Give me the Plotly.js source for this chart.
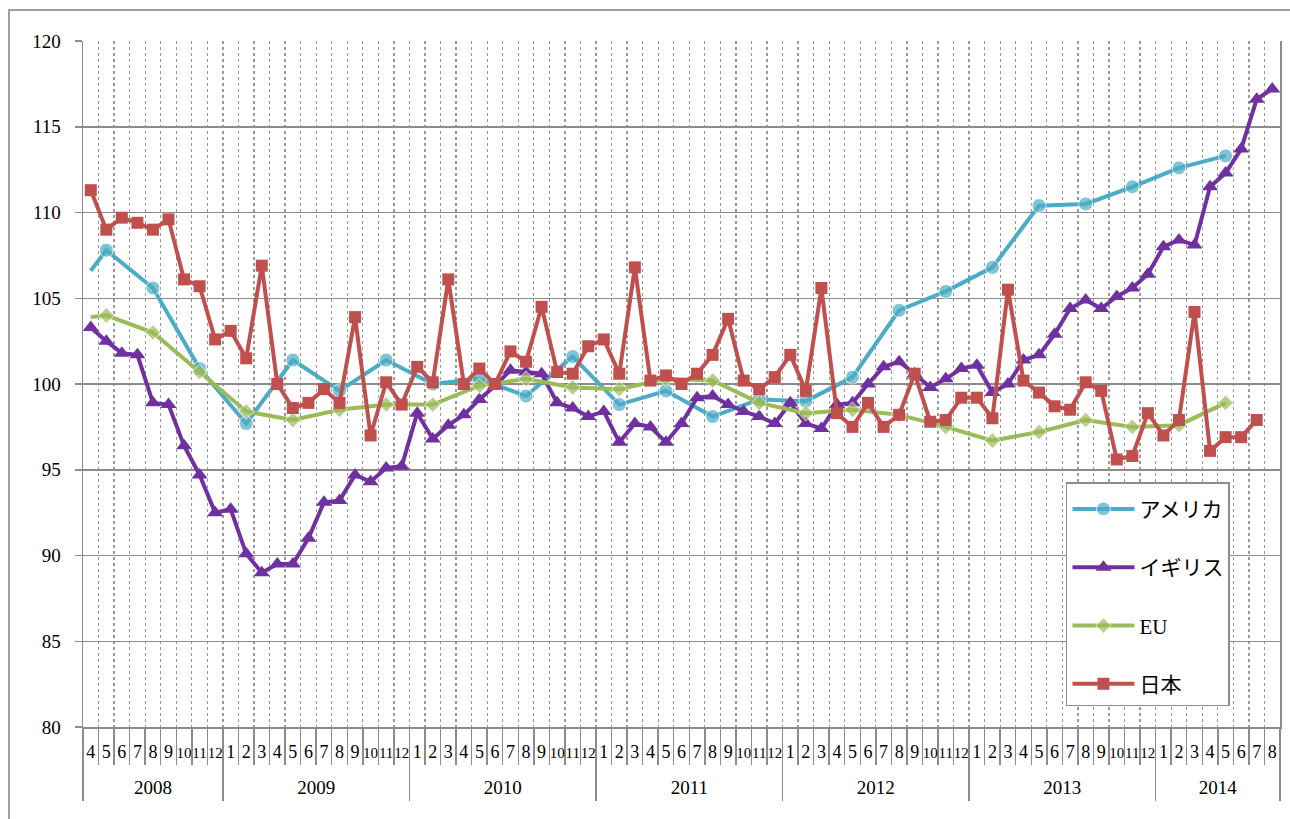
<!DOCTYPE html>
<html>
<head>
<meta charset="utf-8">
<script src="https://cdn.plot.ly/plotly-3.0.1.min.js"></script>
<style>
  html, body { margin: 0; padding: 0; background: #fff; }
  #wrap { position: relative; width: 1290px; height: 819px; overflow: hidden; }
  #frame { position: absolute; left: 8px; top: 9px; width: 1300px; height: 830px;
           border-left: 2px solid #a0a0a0; border-top: 2px solid #a0a0a0; pointer-events: none; }
  #chart { position: absolute; left: 0; top: 0; width: 1290px; height: 819px; }
</style>
</head>
<body>
<div id="wrap">
  <div id="chart"></div>
  <div id="frame"></div>
</div>
<script>
// ---- data (Apr 2008 – Aug 2014, monthly) ----
const years = ['2008', '2009', '2010', '2011', '2012', '2013', '2014'];
const monthsPerYear = [9, 12, 12, 12, 12, 12, 8];
const monthLabels = [
  '4','5','6','7','8','9','10','11','12',
  '1','2','3','4','5','6','7','8','9','10','11','12',
  '1','2','3','4','5','6','7','8','9','10','11','12',
  '1','2','3','4','5','6','7','8','9','10','11','12',
  '1','2','3','4','5','6','7','8','9','10','11','12',
  '1','2','3','4','5','6','7','8','9','10','11','12',
  '1','2','3','4','5','6','7','8'
];

// アメリカ (quarterly values, gaps connected)
const usa = [
  106.6, 107.8, null, null, 105.6, null, null, 100.9, null,
  null, 97.7, null, null, 101.4, null, null, 99.6, null, null, 101.4, null,
  null, 100.0, null, null, 100.3, null, null, 99.3, null, null, 101.6, null,
  null, 98.8, null, null, 99.6, null, null, 98.1, null, null, 99.1, null,
  null, 99.0, null, null, 100.4, null, null, 104.3, null, null, 105.4, null,
  null, 106.8, null, null, 110.4, null, null, 110.5, null, null, 111.5, null,
  null, 112.6, null, null, 113.3, null, null, null
];

// イギリス (monthly)
const uk = [
  103.3, 102.5, 101.8, 101.7, 98.9, 98.8, 96.4, 94.7, 92.5,
  92.7, 90.1, 89.0, 89.5, 89.5, 91.0, 93.1, 93.2, 94.7, 94.3, 95.1, 95.2,
  98.3, 96.8, 97.6, 98.2, 99.1, 99.9, 100.8, 100.7, 100.6, 98.9, 98.6, 98.1,
  98.4, 96.6, 97.7, 97.5, 96.6, 97.7, 99.2, 99.3, 98.8, 98.4, 98.1, 97.7,
  98.9, 97.7, 97.4, 98.8, 98.9, 100.0, 101.0, 101.3, 100.6, 99.8, 100.3, 100.9,
  101.1, 99.5, 100.0, 101.4, 101.7, 102.9, 104.4, 104.9, 104.4, 105.1, 105.6, 106.4,
  108.0, 108.4, 108.1, 111.5, 112.3, 113.7, 116.6, 117.2
];

// EU (quarterly values, gaps connected)
const eu = [
  103.9, 104.0, null, null, 103.0, null, null, 100.7, null,
  null, 98.4, null, null, 97.9, null, null, 98.5, null, null, 98.8, null,
  null, 98.8, null, null, 99.9, null, null, 100.3, null, null, 99.8, null,
  null, 99.7, null, null, 100.3, null, null, 100.2, null, null, 98.9, null,
  null, 98.3, null, null, 98.5, null, null, 98.2, null, null, 97.5, null,
  null, 96.7, null, null, 97.2, null, null, 97.9, null, null, 97.5, null,
  null, 97.6, null, null, 98.9, null, null, null
];

// 日本 (monthly)
const japan = [
  111.3, 109.0, 109.7, 109.4, 109.0, 109.6, 106.1, 105.7, 102.6,
  103.1, 101.5, 106.9, 100.0, 98.6, 98.9, 99.7, 98.9, 103.9, 97.0, 100.1, 98.8,
  101.0, 100.1, 106.1, 100.0, 100.9, 100.0, 101.9, 101.3, 104.5, 100.7, 100.6, 102.2,
  102.6, 100.6, 106.8, 100.2, 100.5, 100.0, 100.6, 101.7, 103.8, 100.2, 99.7, 100.4,
  101.7, 99.6, 105.6, 98.3, 97.5, 98.9, 97.5, 98.2, 100.6, 97.8, 97.9, 99.2,
  99.2, 98.0, 105.5, 100.2, 99.5, 98.7, 98.5, 100.1, 99.6, 95.6, 95.8, 98.3,
  97.0, 97.9, 104.2, 96.1, 96.9, 96.9, 97.9, null
];

const seriesNames = ['アメリカ', 'イギリス', 'EU', '日本'];
const seriesColors = ['#4bacc6', '#7030a0', '#9bbb59', '#c0504d'];

// ---- derived axis helpers ----
const idx = monthLabels.map((_, i) => i);
const monthBounds = idx.map(i => i - 0.5).concat([idx.length - 0.5]);
const yearBounds = [-0.5];
const yearCenters = [];
monthsPerYear.reduce((start, n) => {
  yearCenters.push(start + (n - 1) / 2);
  yearBounds.push(start + n - 0.5);
  return start + n;
}, 0);
// two-digit month labels set a little narrower so they fit their category
const monthTickText = monthLabels.map(m =>
  m.length > 1 ? '<span style="font-size:15px">' + m + '</span>' : m);

const firstHidden = (arr, size) => arr.map((v, i) => (i === 0 ? 0 : size));

const gray = '#8c8c8c';
const serif = 'Liberation Serif, Noto Sans CJK JP, serif';

const traces = [
  { x: idx, y: usa, name: seriesNames[0], legendgroup: 'g1', mode: 'lines+markers', connectgaps: true,
    line: { color: seriesColors[0], width: 4 },
    marker: { symbol: 'circle', size: firstHidden(usa, 14), color: seriesColors[0] } },
  { x: idx, y: uk, name: seriesNames[1], legendgroup: 'g2', mode: 'lines+markers', connectgaps: true,
    line: { color: seriesColors[1], width: 4 },
    marker: { symbol: 'triangle-up', size: 14, color: seriesColors[1] } },
  { x: idx, y: eu, name: seriesNames[2], legendgroup: 'g3', mode: 'lines+markers', connectgaps: true,
    line: { color: seriesColors[2], width: 4 },
    marker: { symbol: 'diamond', size: firstHidden(eu, 12), color: seriesColors[2] } },
  { x: idx, y: japan, name: seriesNames[3], legendgroup: 'g4', mode: 'lines+markers', connectgaps: false,
    line: { color: seriesColors[3], width: 4 },
    marker: { symbol: 'square', size: 12, color: seriesColors[3] } },
  // carrier for the year axis
  { x: yearCenters, y: yearCenters.map(() => null), xaxis: 'x2', yaxis: 'y', mode: 'lines',
    showlegend: false, hoverinfo: 'skip' }
];

const layout = {
  width: 1290, height: 819,
  margin: { l: 83, r: 10, t: 41, b: 92 },
  paper_bgcolor: 'rgba(0,0,0,0)', plot_bgcolor: '#fff',
  font: { family: serif, color: '#000' },
  showlegend: true,
  legend: {
    x: 0.8212, y: 0.357, xanchor: 'left', yanchor: 'top',
    bgcolor: '#fff', bordercolor: gray, borderwidth: 1.5,
    font: { family: serif, size: 21, color: '#000' },
    title: { text: ' ', font: { size: 4 } },
    traceorder: 'grouped', tracegroupgap: 28, itemwidth: 62
  },
  xaxis: {
    range: [-0.5, idx.length - 0.5], tickmode: 'array', tickvals: idx, ticktext: monthTickText,
    ticks: '', tickangle: 0, showgrid: false, zeroline: false,
    showline: true, linecolor: gray, linewidth: 1.5,
    tickfont: { family: serif, size: 18, color: '#000' }, ticklabelstandoff: 8,
    minor: { tickmode: 'array', tickvals: monthBounds, ticks: 'outside', ticklen: 36,
             tickcolor: gray, tickwidth: 1.5, showgrid: true, gridcolor: '#999999',
             griddash: 'dot', gridwidth: 1.3 }
  },
  xaxis2: {
    overlaying: 'x', anchor: 'y', side: 'bottom',
    range: [-0.5, idx.length - 0.5], tickmode: 'array', tickvals: yearCenters, ticktext: years,
    ticks: '', tickangle: 0, showgrid: false, zeroline: false, showline: false,
    tickfont: { family: serif, size: 19, color: '#000' }, ticklabelstandoff: 47,
    minor: { tickmode: 'array', tickvals: yearBounds, ticks: 'outside', ticklen: 73,
             tickcolor: gray, tickwidth: 1.5, showgrid: false }
  },
  yaxis: {
    range: [80, 120], tickmode: 'linear', tick0: 80, dtick: 5,
    ticks: 'outside', ticklen: 7, tickcolor: gray, tickwidth: 1.5,
    showgrid: true, gridcolor: gray, gridwidth: 1.5, zeroline: false,
    showline: true, linecolor: gray, linewidth: 1.5, mirror: true,
    tickfont: { family: serif, size: 19, color: '#000' }, ticklabelstandoff: 10
  }
};

Plotly.newPlot('chart', traces, layout, { displayModeBar: false, staticPlot: true });
</script>
</body>
</html>
